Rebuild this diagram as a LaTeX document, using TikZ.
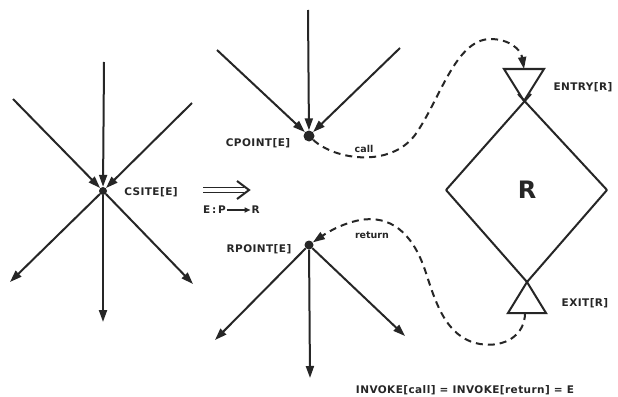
\documentclass[tikz,border=0pt]{standalone}
\usepackage{fontspec}
\setmainfont{DejaVu Sans}
\newfontfamily\lab[LetterSpace=4,BoldFont={DejaVu Sans Bold}]{DejaVu Sans}
\usetikzlibrary{arrows.meta}
\tikzset{
  tip/.style={-{Triangle[length=12pt,width=8pt]}},
  arr/.style={line width=2pt,tip},
  ln/.style={line width=2pt},
  dsh/.style={line width=2pt,dash pattern=on 7pt off 5pt},
  dot/.style={circle,fill=black!85,inner sep=0pt,minimum size=#1},
  dot/.default=7pt,
  lbl/.style={font=\lab\bfseries\fontsize{10.5}{12}\selectfont,text=black!85,inner sep=1pt},
  sm/.style={font=\bfseries\fontsize{9.5}{11}\selectfont,text=black!85,inner sep=1pt},
}
\begin{document}
\begin{tikzpicture}[x=1pt,y=-1pt,black!85]
\useasboundingbox[fill=white] (0,0) rectangle (618,396);

% ---- CSITE ----
\node[dot=8pt] (cs) at (103,191) {};
\coordinate (csul) at (13,99);
\coordinate (csu) at (104,62);
\coordinate (csur) at (192,103);
\coordinate (csll) at (10,282);
\coordinate (csd) at (103,322);
\coordinate (cslr) at (193,284);
\draw[arr] (csul) -- (cs);
\draw[arr] (csu) -- (cs);
\draw[arr] (csur) -- (cs);
\draw[arr] (cs) -- (csll);
\draw[arr] (cs) -- (csd);
\draw[arr] (cs) -- (cslr);
\node[lbl] (cslab) at (151,192) {CSITE[E]};

% ---- transformation arrow ----
\coordinate (ta1) at (203,187.5);
\coordinate (tb1) at (244,187.5);
\coordinate (ta2) at (203,192.5);
\coordinate (tb2) at (244,192.5);
\coordinate (tc1) at (237,181);
\coordinate (tc) at (249,190);
\coordinate (tc2) at (237,199);
\draw[line width=1.6pt] (ta1) -- (tb1) (ta2) -- (tb2);
\draw[line width=2pt,line join=miter] (tc1) -- (tc) -- (tc2);
\node[sm,anchor=west,font=\bfseries\fontsize{10.5}{12}\selectfont] (mapa) at (202,210) {E\,:\,P};
\node[sm,anchor=east,font=\bfseries\fontsize{10.5}{12}\selectfont] (mapb) at (261,210) {R};
\draw[line width=1.6pt,-{Triangle[length=6pt,width=5pt]}] (mapa) -- (mapb);

% ---- CPOINT ----
\node[dot=11pt] (cp) at (309,136) {};
\coordinate (cpul) at (217,50);
\coordinate (cpu) at (308,10);
\coordinate (cpur) at (400,48);
\draw[arr] (cpul) -- (cp);
\draw[arr] (cpu) -- (cp);
\draw[arr] (cpur) -- (cp);
\node[lbl] (cplab) at (258,143) {CPOINT[E]};

% ---- RPOINT ----
\node[dot=9pt] (rp) at (309,245) {};
\coordinate (rpll) at (215,340);
\coordinate (rpd) at (310,378);
\coordinate (rplr) at (405,336);
\draw[arr] (rp) -- (rpll);
\draw[arr] (rp) -- (rpd);
\draw[arr] (rp) -- (rplr);
\node[lbl] (rplab) at (259,249) {RPOINT[E]};

% ---- procedure R ----
\coordinate (dl) at (446,190);
\coordinate (dr) at (607,190);
\coordinate (db) at (527,282);
\draw[ln] (dl) -- (531,94);
\draw[ln] (dr) -- (518,94);
\draw[ln,line join=miter] (dl) -- (db) -- (dr);
\draw[ln,line join=miter] (446,190) -- (446.1,190);
\node[font=\bfseries\fontsize{24}{26}\selectfont,text=black!85] (R) at (527,190) {R};

\coordinate (en1) at (504,69);
\coordinate (en2) at (544,69);
\coordinate (entip) at (524,101);
\draw[ln,line join=miter] (en1) -- (en2) -- (entip) -- cycle;
\coordinate (entop) at (524,69);
\node[lbl] (enlab) at (583,87) {ENTRY[R]};

\coordinate (ex1) at (508,313);
\coordinate (ex2) at (546,313);
\draw[ln,line join=miter] (ex1) -- (ex2) -- (db) -- cycle;
\coordinate (exbot) at (525,313);
\node[lbl] (exlab) at (585,303) {EXIT[R]};

% ---- call / return ----
\draw[dsh,tip] (cp) .. controls (335,160) and (390,168) .. (415,135)
   .. controls (440,100) and (455,40) .. (490,39)
   .. controls (510,39) and (521,50) .. (entop);
\node[sm] (calllab) at (364,149) {call};

\draw[dsh,tip] (exbot) .. controls (525,335) and (505,348) .. (480,344)
   .. controls (445,338) and (435,300) .. (425,270)
   .. controls (412,232) and (390,215) .. (360,220)
   .. controls (340,224) and (325,234) .. (rp);
\node[sm] (retlab) at (372,235) {return};

% ---- bottom equation ----
\node[lbl] (inv) at (465,390) {INVOKE[call] = INVOKE[return] = E};
\end{tikzpicture}
\end{document}
